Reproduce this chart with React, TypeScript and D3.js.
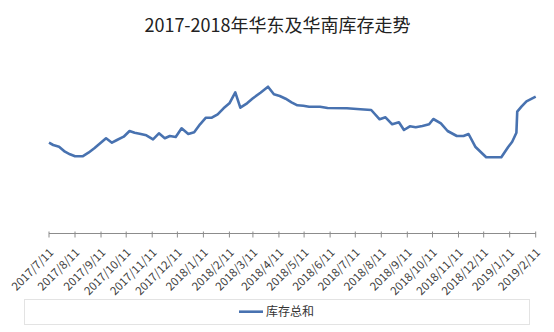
import React from "react";
import * as d3 from "d3";

const TITLE = "2017-2018年华东及华南库存走势";
const SERIES_NAME = "库存总和";

const dates: string[] = [
  "2017-07-11", "2017-07-16", "2017-07-23", "2017-07-30", "2017-08-05", "2017-08-11",
  "2017-08-20", "2017-08-27", "2017-09-03", "2017-09-10", "2017-09-17", "2017-09-24",
  "2017-09-30", "2017-10-08", "2017-10-15", "2017-10-21", "2017-10-27", "2017-11-04",
  "2017-11-12", "2017-11-19", "2017-11-26", "2017-12-02", "2017-12-09", "2017-12-16",
  "2017-12-24", "2017-12-31", "2018-01-07", "2018-01-14", "2018-01-21", "2018-01-28",
  "2018-02-04", "2018-02-11", "2018-02-18", "2018-02-24", "2018-03-04", "2018-03-11",
  "2018-03-20", "2018-03-29", "2018-04-05", "2018-04-12", "2018-04-19", "2018-04-26",
  "2018-05-03", "2018-05-10", "2018-05-17", "2018-05-30", "2018-06-08", "2018-07-01",
  "2018-07-17", "2018-07-30", "2018-08-09", "2018-08-16", "2018-08-24", "2018-09-01",
  "2018-09-07", "2018-09-14", "2018-09-21", "2018-09-29", "2018-10-07", "2018-10-12",
  "2018-10-21", "2018-10-29", "2018-11-09", "2018-11-17", "2018-11-23", "2018-12-01",
  "2018-12-14", "2019-01-01", "2019-01-09", "2019-01-14", "2019-01-19", "2019-01-20",
  "2019-01-25", "2019-01-31", "2019-02-11",
];

const values: number[] = [
  90.3, 88, 86.3, 81.3, 78.7, 76.7,
  76.7, 80.3, 84.7, 89.7, 94.7, 90.3,
  93, 96.3, 102, 100.3, 99.3, 97.7,
  93.7, 99.7, 94.7, 97, 96, 104.7,
  99, 100.7, 108.7, 115.3, 115.3, 118.7,
  124.7, 129.7, 140.7, 125.3, 129.7, 134.7,
  140.3, 146.3, 138.7, 137, 134.3, 130.7,
  127.7, 127.3, 126.3, 126.3, 125, 124.7,
  123.7, 123, 113.7, 115.7, 108.7, 110.7,
  103, 106.7, 105.7, 107, 108.7, 114,
  109.7, 102, 97, 97, 99, 86.3,
  75.7, 75.7, 85.7, 91.3, 100.3, 121.3,
  126.3, 131.7, 136.3,
];

const tickLabels: string[] = [
  "2017/7/11", "2017/8/11", "2017/9/11", "2017/10/11", "2017/11/11", "2017/12/11",
  "2018/1/11", "2018/2/11", "2018/3/11", "2018/4/11", "2018/5/11", "2018/6/11",
  "2018/7/11", "2018/8/11", "2018/9/11", "2018/10/11", "2018/11/11", "2018/12/11",
  "2019/1/11", "2019/2/11",
];

const W = 554;
const H = 332;
const LINE_COLOR = "#4872b0";
const FONT = "'Noto Sans CJK SC', 'Noto Sans', sans-serif";

export default function App() {
  const parse = d3.timeParse("%Y-%m-%d");
  const parseTick = d3.timeParse("%Y/%m/%d");
  const data = dates.map((d, i) => ({ date: parse(d) as Date, value: values[i] }));
  const ticks = tickLabels.map((t) => ({ label: t, date: parseTick(t) as Date }));

  const x = d3
    .scaleTime()
    .domain([ticks[0].date, ticks[ticks.length - 1].date])
    .range([49, 535.7]);
  const y = d3.scaleLinear().domain([0, 180]).range([233, 53]);

  const line = d3
    .line<{ date: Date; value: number }>()
    .x((d) => x(d.date))
    .y((d) => y(d.value))
    .curve(d3.curveLinear);

  const axisY = 233.5;

  return (
    <svg
      width={W}
      height={H}
      style={{ position: "absolute", left: 0, top: 0, background: "#fff" }}
      fontFamily={FONT}
    >
      <rect x={0} y={0} width={W} height={H} fill="#fff" />
      <text x={277.5} y={32} textAnchor="middle" fontSize={18} fill="#222">
        {TITLE}
      </text>

      <line x1={x.range()[0]} x2={x.range()[1]} y1={axisY} y2={axisY} stroke="#8c8c8c" strokeWidth={1} />
      {ticks.map((t) => (
        <g key={t.label}>
          <line
            x1={x(t.date)}
            x2={x(t.date)}
            y1={axisY - 2}
            y2={axisY + 4}
            stroke="#8c8c8c"
            strokeWidth={1}
          />
          <text
            transform={`translate(${x(t.date) + 2.5},${axisY + 17}) rotate(-45)`}
            textAnchor="end"
            fontSize={11.5}
            fill="#404040"
            dy="0.35em"
          >
            {t.label}
          </text>
        </g>
      ))}

      <path d={line(data) ?? ""} fill="none" stroke={LINE_COLOR} strokeWidth={2.6} strokeLinejoin="round" />

      <rect x={24.5} y={299.5} width={505} height={25} fill="none" stroke="#e3e3e3" strokeWidth={1} />
      <line x1={239} x2={263} y1={311.7} y2={311.7} stroke={LINE_COLOR} strokeWidth={2.6} />
      <text x={266} y={311.7} dy="0.35em" fontSize={12} fill="#333">
        {SERIES_NAME}
      </text>
    </svg>
  );
}
